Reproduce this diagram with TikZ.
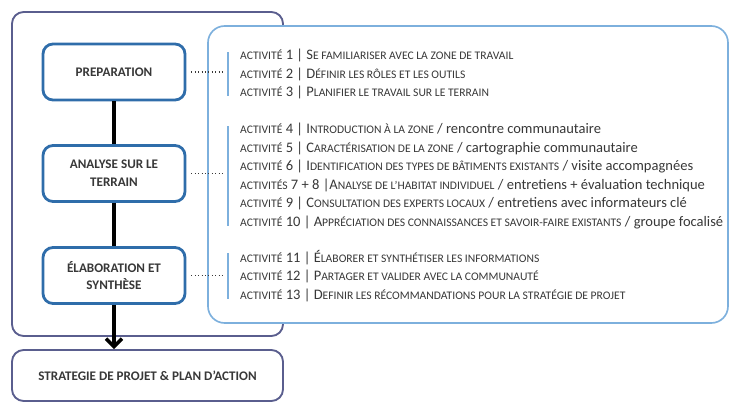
\documentclass[tikz,border=0pt]{standalone}
\usepackage{fontspec}
\setmainfont{Carlito}
\usetikzlibrary{arrows.meta, positioning}
\definecolor{navy}{HTML}{5A5E8E}
\definecolor{stageblue}{HTML}{2F6DAA}
\definecolor{panelblue}{HTML}{7DB0DD}
\definecolor{textgray}{HTML}{383838}
\newcommand\lowcaps[1]{{\fontsize{9.9}{15.8}\selectfont\MakeUppercase{#1}}}
\tikzset{
  frame/.style={draw=navy, line width=1.6pt, rounded corners=0.35cm},
  stage/.style={draw=stageblue, line width=2.4pt, fill=white, rounded corners=0.3cm,
      minimum width=4.26cm, minimum height=1.68cm, align=center,
      font=\bfseries\fontsize{11.2}{15.3}\selectfont, text=textgray},
  actlist/.style={anchor=west, align=left, inner xsep=0.36cm, inner ysep=0pt,
      font=\fontsize{12.4}{15.8}\selectfont, text=textgray},
  link/.style={dotted, line width=0.9pt, textgray},
  bar/.style={draw=panelblue, line width=1.6pt, shorten <=0.1cm, shorten >=0.1cm},
}

\begin{document}
\begin{tikzpicture}
  \useasboundingbox (0,0) rectangle (22.02,12.09);
  % frame round the stages, panel of activities on top of it
  \draw[frame] (0.36,2.01) rectangle (8.49,11.73);
  \draw[draw=panelblue, line width=1.4pt, fill=white, rounded corners=0.5cm] (6.24,2.40) rectangle (21.84,11.31);
  % stages
  \node[stage] (prep) at (3.42,9.93) {PREPARATION};
  \node[stage] (analyse) at (3.42,6.885) {ANALYSE SUR LE\\TERRAIN};
  \node[stage] (elab) at (3.42,3.825) {ÉLABORATION ET\\SYNTHÈSE};
  \node[stage, draw=navy, line width=1.6pt, minimum width=8.13cm, minimum height=1.53cm,
    rounded corners=0.35cm] (strat) at (4.425,0.825) {STRATEGIE DE PROJET \& PLAN D’ACTION};
  \draw[line width=3pt] (prep) -- (analyse) -- (elab);
  \draw[line width=3pt, -{Straight Barb[length=2.4mm, width=4.8mm]}] (elab) -- (elab |- strat.north);
  % activities
  \node[actlist] (list1) at (6.84,9.87) {%
    \lowcaps{activité} 1 | S\lowcaps{e familiariser avec la zone de travail}\\
    \lowcaps{activité} 2 | D\lowcaps{éfinir les rôles et les outils}\\
    \lowcaps{activité} 3 | P\lowcaps{lanifier le travail sur le terrain}};
  \node[actlist] (list2) at (6.84,6.81) {%
    \lowcaps{activité} 4 | I\lowcaps{ntroduction à la zone} / rencontre communautaire\\
    \lowcaps{activité} 5 | C\lowcaps{aractérisation de la zone} / cartographie communautaire\\
    \lowcaps{activité} 6 | I\lowcaps{dentification des types de bâtiments existants} / visite accompagnées\\
    \lowcaps{activités} 7 + 8 |A\lowcaps{nalyse de l’habitat individuel} / entretiens + évaluation technique\\
    \lowcaps{activité} 9 | C\lowcaps{onsultation des experts locaux} / entretiens avec informateurs clé\\
    \lowcaps{activité} 10 | A\lowcaps{ppréciation des connaissances et savoir-faire existants} / groupe focalisé};
  \node[actlist] (list3) at (6.84,3.81) {%
    \lowcaps{activité} 11 | É\lowcaps{laborer et synthétiser les informations}\\
    \lowcaps{activité} 12 | P\lowcaps{artager et valider avec la communauté}\\
    \lowcaps{activité} 13 | D\lowcaps{efinir les récommandations pour la stratégie de projet}};
  \foreach \s/\l in {prep/list1, analyse/list2, elab/list3} {
    \draw[link, shorten <=0.15cm, shorten >=0.15cm] (\s.east) -- (\s.east -| \l.west);
    \draw[bar] (\l.north west) -- (\l.south west);
  }
\end{tikzpicture}
\end{document}
